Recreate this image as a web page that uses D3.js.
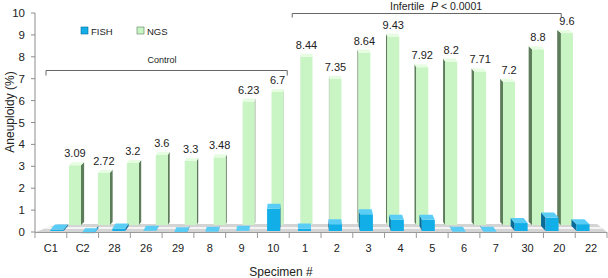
<!doctype html>
<html>
<head>
<meta charset="utf-8">
<script src="https://cdn.jsdelivr.net/npm/d3@7"></script>
<style>
  body { margin: 0; background: #fff; }
  svg { display: block; font-family: Arial, "Liberation Sans", sans-serif; }
</style>
</head>
<body>
<script>
// specimens along the x axis
const categories = ["C1", "C2", "28", "26", "29", "8", "9", "10", "1", "2", "3", "4", "5", "6", "7", "30", "20", "22"];
// NGS aneuploidy (%) - back row, labelled
const ngs = [3.09, 2.72, 3.2, 3.6, 3.3, 3.48, 6.23, 6.7, 8.44, 7.35, 8.64, 9.43, 7.92, 8.2, 7.71, 7.2, 8.8, 9.6];
// FISH aneuploidy (%) - front row
const fish = [0.2, 0.03, 0.25, 0.15, 0.08, 0.1, 0.15, 1.15, 0.25, 0.45, 0.9, 0.65, 0.65, 0.1, 0.1, 0.5, 0.75, 0.45];
const yTicks = d3.range(0, 11);
const groups = [
  {name: "Control", from: "C1", to: "10"},
  {name: "Infertile", from: "1", to: "22", note: "P < 0.0001"}
];

const width = 608, height = 278;
const vx = 300; // perspective centre

const svg = d3.select("body").append("svg")
    .attr("width", width)
    .attr("height", height);

// axis scale (front plane) and the two rows of the 3-D chart
const x = d3.scaleBand().domain(categories).range([35, 607]);
const xFront = d3.scaleBand().domain(categories).range([41.5, 598.5]);
const xBack = d3.scaleBand().domain(categories).range([60.5, 581.4]);
const y = d3.scaleLinear().domain([0, 10]).range([232, 13]);
const yBack = d3.scaleLinear().domain([0, 10]).range([228, 25]);

// floor
const floor = svg.append("g");
floor.append("path")
    .attr("d", "M35,232 L58,224 L597,224 L607,232 Z")
    .attr("fill", "#d4d4d4");
floor.append("path")
    .attr("d", "M46,228 L602,228")
    .attr("stroke", "#f4f4f4")
    .attr("stroke-width", 2);

function box(g, cx, w, top, bottom, dy, k, c) {
  const x0 = cx - w / 2, x1 = cx + w / 2;
  const dx = (vx - cx) * k;
  const sx = dx > 0 ? x1 : x0;
  // side face
  g.append("path")
      .attr("d", `M${sx},${bottom} L${sx},${top} L${sx + dx},${top + dy} L${sx + dx},${bottom + dy} Z`)
      .attr("fill", c.side);
  // front face
  g.append("rect")
      .attr("x", x0).attr("y", top)
      .attr("width", w).attr("height", Math.max(0, bottom - top))
      .attr("fill", c.front);
  // top face
  g.append("path")
      .attr("d", `M${x0},${top} L${x1},${top} L${x1 + dx},${top + dy} L${x0 + dx},${top + dy} Z`)
      .attr("fill", c.top);
}

// NGS bars (back row)
const green = {front: "#c8f5c3", side: "#5d7d5a", top: "#e6fde2"};
const back = svg.append("g");
categories.forEach((c, i) => {
  const cx = xBack(c) + xBack.bandwidth() / 2;
  box(back, cx, 12, yBack(ngs[i]), 225, -3, 0.014, green);
});

// value labels
svg.append("g")
    .attr("font-size", 11)
    .attr("fill", "#222")
    .attr("text-anchor", "middle")
  .selectAll("text")
  .data(categories)
  .join("text")
    .attr("x", (d) => xBack(d) + xBack.bandwidth() / 2)
    .attr("y", (d, i) => yBack(ngs[i]) - 8)
    .text((d, i) => ngs[i]);

// FISH bars (front row)
const blue = {front: "#12aee8", side: "#0a6a98", top: "#5acdf6"};
const front = svg.append("g");
categories.forEach((c, i) => {
  const cx = xFront(c) + xFront.bandwidth() / 2;
  box(front, cx, 13, y(fish[i]) + 2, 231, -5, 0.018, blue);
});

// y axis
const yAxis = svg.append("g");
yAxis.append("line")
    .attr("x1", 35).attr("x2", 35)
    .attr("y1", y(10)).attr("y2", y(0))
    .attr("stroke", "#8c8c8c");
yAxis.selectAll(".tick")
  .data(yTicks)
  .join("line")
    .attr("x1", 31).attr("x2", 35)
    .attr("y1", (d) => y(d)).attr("y2", (d) => y(d))
    .attr("stroke", "#8c8c8c");
yAxis.selectAll("text")
  .data(yTicks)
  .join("text")
    .attr("x", 25)
    .attr("y", (d) => y(d))
    .attr("dy", "0.35em")
    .attr("text-anchor", "end")
    .attr("font-size", 11.5)
    .attr("fill", "#222")
    .text((d) => d);

// x axis
const xAxis = svg.append("g");
xAxis.append("line")
    .attr("x1", 35).attr("x2", 607)
    .attr("y1", 232.5).attr("y2", 232.5)
    .attr("stroke", "#9a9a9a");
xAxis.selectAll("line.tick")
  .data(categories.concat(["end"]))
  .join("line")
    .attr("class", "tick")
    .attr("x1", (d, i) => x.range()[0] + i * x.step())
    .attr("x2", (d, i) => x.range()[0] + i * x.step())
    .attr("y1", 232).attr("y2", 238)
    .attr("stroke", "#9a9a9a");
xAxis.selectAll("text")
  .data(categories)
  .join("text")
    .attr("x", (d) => x(d) + x.bandwidth() / 2)
    .attr("y", 252)
    .attr("text-anchor", "middle")
    .attr("font-size", 11)
    .attr("fill", "#222")
    .text((d) => d);

// axis titles
svg.append("text")
    .attr("transform", "translate(14,112) rotate(-90)")
    .attr("text-anchor", "middle")
    .attr("font-size", 12)
    .attr("fill", "#222")
    .text("Aneuploidy (%)");
svg.append("text")
    .attr("x", 281)
    .attr("y", 276)
    .attr("text-anchor", "middle")
    .attr("font-size", 12)
    .attr("fill", "#222")
    .text("Specimen #");

// group brackets
const bracket = svg.append("g").attr("fill", "#222");
const ctl = groups[0], inf = groups[1];
const cx0 = x(ctl.from) + 11, cx1 = x(ctl.to) + x.bandwidth() - 2, cy = 70.5;
bracket.append("path")
    .attr("d", `M${cx0},${cy + 5} V${cy} H${cx1} V${cy + 5}`)
    .attr("fill", "none").attr("stroke", "#666");
bracket.append("text")
    .attr("x", 162).attr("y", 63)
    .attr("text-anchor", "middle")
    .attr("font-size", 9)
    .text(ctl.name);
const ix0 = x(inf.from) + 3, ix1 = x(inf.to) - 14, iy = 13.5;
bracket.append("path")
    .attr("d", `M${ix0},${iy + 4} V${iy} H${ix1} V${iy + 4}`)
    .attr("fill", "none").attr("stroke", "#666");
const it = bracket.append("text")
    .attr("x", 390).attr("y", 10)
    .attr("font-size", 10.5);
it.append("tspan").text(inf.name);
it.append("tspan").attr("x", 431).attr("font-style", "italic").text("P");
it.append("tspan").text(" < " + inf.note.split("< ")[1]);

// legend
const legend = svg.append("g").attr("font-size", 9.5).attr("fill", "#222");
[["FISH", blue], ["NGS", green]].forEach(([name, c], i) => {
  const lx = 81 + i * 56;
  legend.append("rect")
      .attr("x", lx).attr("y", 27)
      .attr("width", 7).attr("height", 7)
      .attr("fill", c.front)
      .attr("stroke", c.side).attr("stroke-width", 0.6);
  legend.append("text")
      .attr("x", lx + 10).attr("y", 34.5)
      .text(name);
});
</script>
</body>
</html>
